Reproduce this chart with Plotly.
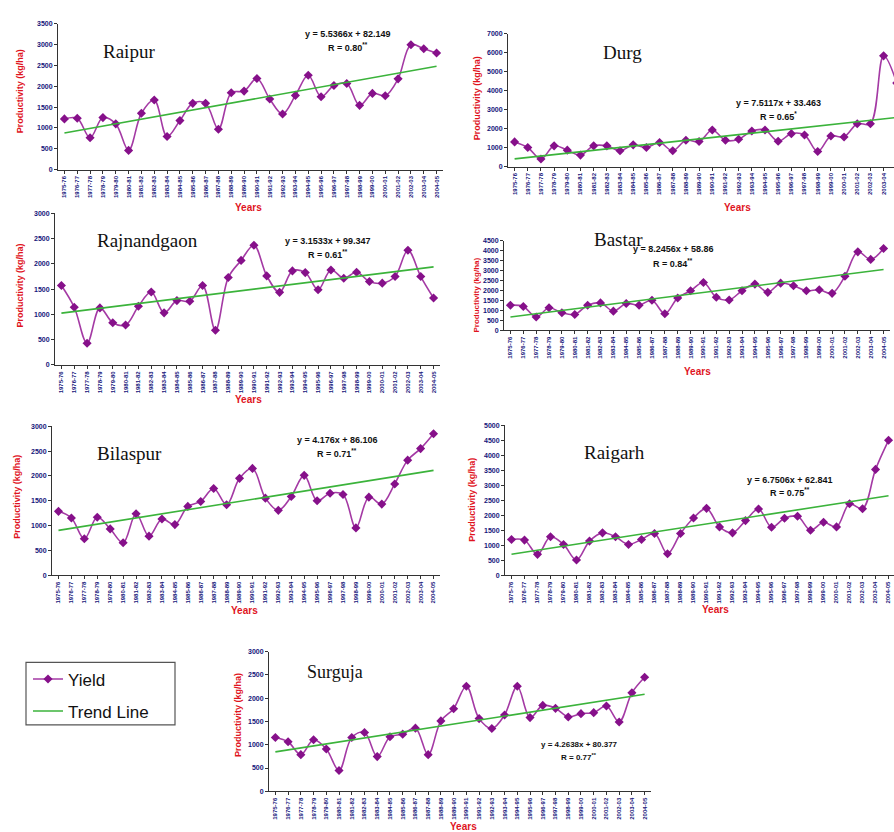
import plotly.graph_objects as go

# ---------------- data ----------------
years = [f"{y}-{str(y + 1)[-2:]}" for y in range(1975, 2005)]

raipur = [1217, 1233, 764, 1249, 1098, 461, 1352, 1670, 795, 1177,
          1591, 1591, 970, 1845, 1885, 2187, 1694, 1336, 1782, 2267,
          1750, 2020, 2068, 1543, 1830, 1774, 2179, 2999, 2903, 2800]
durg = [1303, 1007, 400, 1094, 868, 608, 1094, 1094, 834, 1146,
        1007, 1268, 834, 1390, 1320, 1928, 1390, 1442, 1876, 1928,
        1337, 1737, 1668, 799, 1615, 1563, 2258, 2258, 5836, 4400]
rajnandgaon = [1572, 1141, 430, 1128, 835, 789, 1161, 1441, 1030, 1272,
               1259, 1572, 685, 1728, 2067, 2367, 1761, 1435, 1859, 1826,
               1487, 1878, 1715, 1832, 1650, 1617, 1748, 2269, 1748, 1324]
bastar = [1262, 1196, 664, 1130, 880, 797, 1262, 1379, 963, 1346,
          1262, 1512, 831, 1628, 1993, 2409, 1661, 1528, 1993, 2326,
          1910, 2375, 2243, 1993, 2043, 1860, 2724, 3953, 3571, 4120]
bilaspur = [1287, 1153, 733, 1167, 933, 653, 1240, 787, 1133, 1020,
            1387, 1487, 1747, 1420, 1953, 2153, 1553, 1307, 1587, 2013,
            1500, 1653, 1627, 953, 1573, 1433, 1840, 2320, 2553, 2853]
raigarh = [1192, 1170, 695, 1280, 1026, 508, 1137, 1413, 1280, 1026,
           1192, 1391, 717, 1391, 1909, 2230, 1611, 1413, 1821, 2208,
           1600, 1898, 1965, 1501, 1766, 1611, 2384, 2219, 3532, 4503]
surguja = [1156, 1064, 787, 1106, 908, 447, 1156, 1262, 745, 1170,
           1227, 1355, 787, 1511, 1773, 2255, 1560, 1348, 1638, 2255,
           1582, 1844, 1780, 1596, 1667, 1688, 1830, 1489, 2113, 2447]

districts = ["Raipur", "Durg", "Rajnandgaon", "Bastar", "Bilaspur", "Raigarh", "Surguja"]
yields = [raipur, durg, rajnandgaon, bastar, bilaspur, raigarh, surguja]

# fitted trend equations (coefficients on the 10 kg/ha scale)
slopes = [5.5366, 7.5117, 3.1533, 8.2456, 4.176, 6.7506, 4.2638]
intercepts = [82.149, 33.463, 99.347, 58.86, 86.106, 62.841, 80.377]
r_labels = ["0.80**", "0.65*", "0.61**", "0.84**", "0.71**", "0.75**", "0.77**"]

# ---------------- layout helpers ----------------
W, H = 894, 832


def xd(left, right):
    return [left / W, min(right / W, 1.0)]


def yd(top, bottom):
    return [1 - bottom / H, 1 - top / H]


# panel boxes in pixels: left, right, top, bottom, y max, y step, x range end
panels = [
    dict(box=(58, 443, 20, 167), ymax=3500, dtick=500, xend=29.5,
         title=(129, 48), eq=(348, 30, 43), ylab=(20, 88), years=(248, 205), tsize=19),
    dict(box=(508, 894, 30, 164), ymax=7000, dtick=1000, xend=28.79,
         title=(622, 49), eq=(778, 100, 113), ylab=(477, 95), years=(737, 205), tsize=19),
    dict(box=(55, 440, 211, 364), ymax=3000, dtick=500, xend=29.5,
         title=(147, 239), eq=(328, 239, 252), ylab=(20, 284), years=(248, 399), tsize=19),
    dict(box=(504, 890, 239, 329), ymax=4500, dtick=500, xend=29.5,
         title=(618, 238), eq=(673, 247, 261), ylab=(477, 293), years=(697, 371), tsize=19),
    dict(box=(52, 440, 426, 576), ymax=3000, dtick=500, xend=29.5,
         title=(129, 453), eq=(337, 440, 453), ylab=(17, 497), years=(245, 612), tsize=19),
    dict(box=(505, 894, 425, 576), ymax=5000, dtick=500, xend=29.42,
         title=(614, 452), eq=(790, 480, 492), ylab=(472, 500), years=(715, 611), tsize=19),
    dict(box=(269, 651, 653, 794), ymax=3000, dtick=500, xend=29.5,
         title=(335, 674), eq=(579, 747, 759), ylab=(238, 717), years=(463, 829), tsize=18),
]

YIELD_LINE = "#a43aa4"
YIELD_MARK = "#86108a"
TREND = "#3bb33b"
NAVY = "#14147a"
RED = "#e0141e"

fig = go.Figure()
layout = dict(
    width=W, height=H,
    margin=dict(l=0, r=0, t=0, b=0),
    paper_bgcolor="white", plot_bgcolor="white",
    showlegend=True,
    legend=dict(
        x=28 / W, y=1 - 663 / H, xanchor="left", yanchor="top",
        bgcolor="rgba(0,0,0,0)", borderwidth=0,
        font=dict(family="Liberation Sans, Arial", size=17, color="#111111"),
        itemwidth=30, tracegroupgap=7,
    ),
    # frame around the legend
    shapes=[dict(type="rect", xref="paper", yref="paper",
                 x0=26 / W, x1=175 / W, y0=1 - 727 / H, y1=1 - 664 / H,
                 line=dict(color="#555555", width=1.2), layer="below")],
)
annotations = []

idx = list(range(30))
for k, (name, vals, p) in enumerate(zip(districts, yields, panels)):
    n = "" if k == 0 else str(k + 1)
    xa, ya = "x" + n, "y" + n
    left, right, top, bottom = p["box"]
    trend = [(slopes[k] * (i + 1) + intercepts[k]) * 10 for i in idx]

    fig.add_trace(go.Scatter(
        x=idx, y=vals, xaxis=xa, yaxis=ya, mode="lines+markers", name="Yield",
        legendgroup="yield", showlegend=(k == 0),
        line=dict(color=YIELD_LINE, width=1.6, shape="spline", smoothing=1),
        marker=dict(symbol="diamond", size=7, color=YIELD_MARK),
    ))
    fig.add_trace(go.Scatter(
        x=idx, y=trend, xaxis=xa, yaxis=ya, mode="lines", name="Trend Line",
        legendgroup="trend", showlegend=(k == 0),
        line=dict(color=TREND, width=1.6),
    ))

    layout["xaxis" + n] = dict(
        domain=xd(left, right), anchor=ya, range=[-0.5, p["xend"]],
        tickmode="array", tickvals=idx, ticktext=years, tickangle=-90,
        tickfont=dict(family="Liberation Sans, Arial", size=6, color=NAVY, weight="bold"),
        showline=True, linecolor="#333333", linewidth=1,
        ticks="outside", ticklen=3, tickcolor="#333333",
        showgrid=False, zeroline=False, fixedrange=True,
    )
    layout["yaxis" + n] = dict(
        domain=yd(top, bottom), anchor=xa, range=[0, p["ymax"]],
        dtick=p["dtick"], tick0=0,
        tickfont=dict(family="Liberation Sans, Arial", size=7, color=NAVY, weight="bold"),
        showline=True, linecolor="#333333", linewidth=1,
        ticks="outside", ticklen=3, tickcolor="#333333",
        showgrid=False, zeroline=False, fixedrange=True,
    )

    tx, ty = p["title"]
    annotations.append(dict(
        text=name, x=tx / W, y=1 - ty / H, xref="paper", yref="paper",
        showarrow=False, xanchor="center", yanchor="middle",
        font=dict(family="Liberation Serif, Times New Roman", size=p["tsize"], color="#111111"),
    ))
    ex, ey1, ey2 = p["eq"]
    eq_size = 8 if k == 6 else 9
    annotations.append(dict(
        text=f"<b>y = {slopes[k]}x + {intercepts[k]}</b>", x=ex / W, y=1 - ey1 / H,
        xref="paper", yref="paper", showarrow=False, xanchor="center", yanchor="middle",
        font=dict(family="Liberation Sans, Arial", size=eq_size, color="#111111"),
    ))
    r_val, stars = r_labels[k].rstrip("*"), "*" * r_labels[k].count("*")
    annotations.append(dict(
        text=f"<b>R = {r_val}<sup>{stars}</sup></b>", x=ex / W, y=1 - ey2 / H,
        xref="paper", yref="paper", showarrow=False, xanchor="center", yanchor="middle",
        font=dict(family="Liberation Sans, Arial", size=eq_size, color="#111111"),
    ))
    lx, ly = p["ylab"]
    annotations.append(dict(
        text="<b>Productivity (kg/ha)</b>", x=lx / W, y=1 - ly / H, textangle=-90,
        xref="paper", yref="paper", showarrow=False, xanchor="center", yanchor="middle",
        font=dict(family="Liberation Sans, Arial", size=9 if (bottom - top) > 120 else 8, color=RED),
    ))
    yx, yy = p["years"]
    annotations.append(dict(
        text="<b>Years</b>", x=yx / W, y=1 - yy / H,
        xref="paper", yref="paper", showarrow=False, xanchor="center", yanchor="middle",
        font=dict(family="Liberation Sans, Arial", size=10, color=RED),
    ))

layout["annotations"] = annotations
fig.update_layout(**layout)
fig.write_html("out.html")
